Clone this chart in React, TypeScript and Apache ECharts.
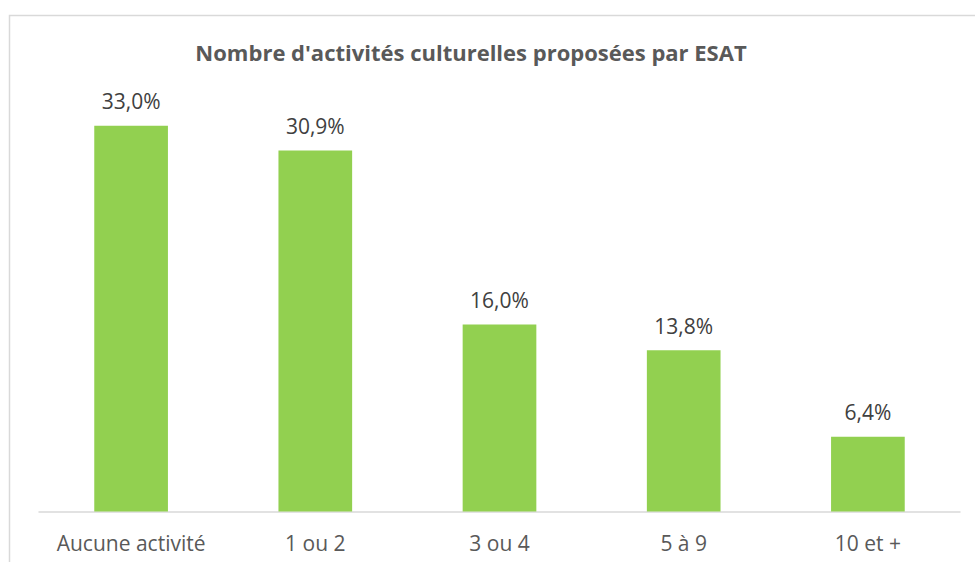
import React, { useEffect, useRef } from "react";
import * as echarts from "echarts";

const categories = ["Aucune activité", "1 ou 2", "3 ou 4", "5 à 9", "10 et +"];
const values = [33.0, 30.9, 16.0, 13.8, 6.4];
const titleText = "Nombre d'activités culturelles proposées par ESAT";

export default function App() {
  const ref = useRef<HTMLDivElement>(null);
  useEffect(() => {
    if (!ref.current) return;
    const chart = echarts.init(ref.current, undefined, { renderer: "svg" });
    const font = "'Open Sans', 'Noto Sans', sans-serif";
    chart.setOption({
      animation: false,
      backgroundColor: "#ffffff",
      title: {
        text: titleText,
        left: 466,
        textAlign: "center",
        top: 36,
        textStyle: { fontFamily: font, fontSize: 22, fontWeight: "bold", color: "#595959" },
      },
      graphic: [
        {
          type: "rect",
          shape: { x: 9.5, y: 15.5, width: 980, height: 560 },
          style: { fill: "none", stroke: "#d9d9d9", lineWidth: 1.5 },
          silent: true,
        },
      ],
      grid: { left: 39, right: 15, top: 102.5, bottom: 50.5, containLabel: false },
      xAxis: {
        type: "category",
        data: categories,
        axisLine: { show: true, lineStyle: { color: "#d9d9d9", width: 1.5 } },
        axisTick: { show: false },
        axisLabel: { interval: 0, fontFamily: font, fontSize: 21, color: "#595959", margin: 21 },
      },
      yAxis: {
        type: "value",
        min: 0,
        max: 35,
        show: false,
        splitLine: { show: false },
      },
      series: [
        {
          type: "bar",
          data: values,
          barWidth: "40%",
          itemStyle: { color: "#92d050" },
          label: {
            show: true,
            position: "top",
            distance: 14,
            fontFamily: font,
            fontSize: 21,
            color: "#404040",
            formatter: (p: any) => p.value.toFixed(1).replace(".", ",") + "%",
          },
        },
      ],
    });
    return () => chart.dispose();
  }, []);
  return (
    <div
      ref={ref}
      style={{ position: "fixed", left: 0, top: 0, width: 975, height: 562 }}
    />
  );
}
